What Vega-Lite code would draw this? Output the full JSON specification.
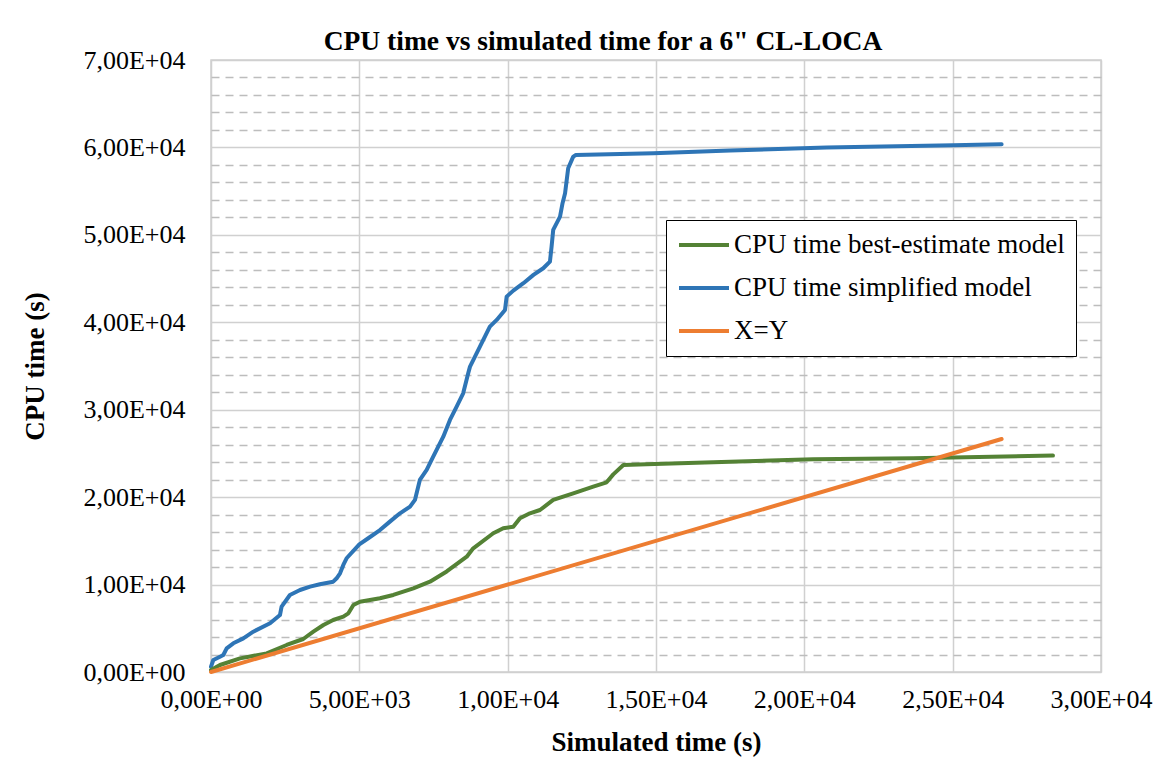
{
  "$schema": "https://vega.github.io/schema/vega-lite/v6.json",
  "width": 890,
  "height": 612,
  "autosize": {"type": "none"},
  "padding": {"left": 211, "top": 60, "right": 64, "bottom": 86},
  "background": "white",
  "config": {
    "font": "Liberation Serif",
    "view": {"stroke": "#d0d0d0", "strokeWidth": 1.5}
  },
  "title": {
    "text": "CPU time vs simulated time for a 6\" CL-LOCA",
    "font": "Liberation Serif",
    "fontSize": 27.5,
    "fontWeight": "bold",
    "color": "black",
    "anchor": "middle",
    "dx": -53,
    "dy": 12,
    "offset": 4
  },
  "data": {
    "values": [
      {"series": "CPU time simplified model", "x": 0, "y": 610},
      {"series": "CPU time simplified model", "x": 78, "y": 1370},
      {"series": "CPU time simplified model", "x": 303, "y": 1750},
      {"series": "CPU time simplified model", "x": 415, "y": 1945},
      {"series": "CPU time simplified model", "x": 528, "y": 2710},
      {"series": "CPU time simplified model", "x": 752, "y": 3280},
      {"series": "CPU time simplified model", "x": 1090, "y": 3850},
      {"series": "CPU time simplified model", "x": 1426, "y": 4610},
      {"series": "CPU time simplified model", "x": 1990, "y": 5570},
      {"series": "CPU time simplified model", "x": 2325, "y": 6520},
      {"series": "CPU time simplified model", "x": 2380, "y": 7470},
      {"series": "CPU time simplified model", "x": 2660, "y": 8810},
      {"series": "CPU time simplified model", "x": 3000, "y": 9380},
      {"series": "CPU time simplified model", "x": 3340, "y": 9760},
      {"series": "CPU time simplified model", "x": 3670, "y": 10030},
      {"series": "CPU time simplified model", "x": 4120, "y": 10330},
      {"series": "CPU time simplified model", "x": 4235, "y": 10720},
      {"series": "CPU time simplified model", "x": 4350, "y": 11290},
      {"series": "CPU time simplified model", "x": 4460, "y": 12240},
      {"series": "CPU time simplified model", "x": 4570, "y": 13010},
      {"series": "CPU time simplified model", "x": 5000, "y": 14600},
      {"series": "CPU time simplified model", "x": 5300, "y": 15300},
      {"series": "CPU time simplified model", "x": 5695, "y": 16240},
      {"series": "CPU time simplified model", "x": 6030, "y": 17200},
      {"series": "CPU time simplified model", "x": 6370, "y": 18150},
      {"series": "CPU time simplified model", "x": 6710, "y": 18910},
      {"series": "CPU time simplified model", "x": 6875, "y": 19680},
      {"series": "CPU time simplified model", "x": 7040, "y": 21970},
      {"series": "CPU time simplified model", "x": 7270, "y": 23110},
      {"series": "CPU time simplified model", "x": 7490, "y": 24630},
      {"series": "CPU time simplified model", "x": 7830, "y": 26920},
      {"series": "CPU time simplified model", "x": 8055, "y": 28830},
      {"series": "CPU time simplified model", "x": 8280, "y": 30350},
      {"series": "CPU time simplified model", "x": 8500, "y": 31880},
      {"series": "CPU time simplified model", "x": 8670, "y": 34170},
      {"series": "CPU time simplified model", "x": 8730, "y": 34930},
      {"series": "CPU time simplified model", "x": 9065, "y": 37220},
      {"series": "CPU time simplified model", "x": 9400, "y": 39500},
      {"series": "CPU time simplified model", "x": 9630, "y": 40270},
      {"series": "CPU time simplified model", "x": 9910, "y": 41410},
      {"series": "CPU time simplified model", "x": 9965, "y": 42930},
      {"series": "CPU time simplified model", "x": 10190, "y": 43620},
      {"series": "CPU time simplified model", "x": 10530, "y": 44470},
      {"series": "CPU time simplified model", "x": 10870, "y": 45420},
      {"series": "CPU time simplified model", "x": 11200, "y": 46180},
      {"series": "CPU time simplified model", "x": 11425, "y": 46940},
      {"series": "CPU time simplified model", "x": 11480, "y": 48650},
      {"series": "CPU time simplified model", "x": 11535, "y": 50560},
      {"series": "CPU time simplified model", "x": 11765, "y": 52090},
      {"series": "CPU time simplified model", "x": 11850, "y": 53620},
      {"series": "CPU time simplified model", "x": 11935, "y": 54760},
      {"series": "CPU time simplified model", "x": 12040, "y": 57620},
      {"series": "CPU time simplified model", "x": 12210, "y": 58950},
      {"series": "CPU time simplified model", "x": 12300, "y": 59140},
      {"series": "CPU time simplified model", "x": 14910, "y": 59340},
      {"series": "CPU time simplified model", "x": 17500, "y": 59650},
      {"series": "CPU time simplified model", "x": 20750, "y": 59980},
      {"series": "CPU time simplified model", "x": 25020, "y": 60250},
      {"series": "CPU time simplified model", "x": 26650, "y": 60370},
      {"series": "CPU time best-estimate model", "x": 0, "y": 230},
      {"series": "CPU time best-estimate model", "x": 303, "y": 800},
      {"series": "CPU time best-estimate model", "x": 977, "y": 1560},
      {"series": "CPU time best-estimate model", "x": 1877, "y": 2130},
      {"series": "CPU time best-estimate model", "x": 2550, "y": 3090},
      {"series": "CPU time best-estimate model", "x": 3110, "y": 3775},
      {"series": "CPU time best-estimate model", "x": 3450, "y": 4610},
      {"series": "CPU time best-estimate model", "x": 3790, "y": 5380},
      {"series": "CPU time best-estimate model", "x": 4120, "y": 5950},
      {"series": "CPU time best-estimate model", "x": 4460, "y": 6330},
      {"series": "CPU time best-estimate model", "x": 4630, "y": 6710},
      {"series": "CPU time best-estimate model", "x": 4800, "y": 7660},
      {"series": "CPU time best-estimate model", "x": 5020, "y": 8040},
      {"series": "CPU time best-estimate model", "x": 5695, "y": 8430},
      {"series": "CPU time best-estimate model", "x": 6145, "y": 8810},
      {"series": "CPU time best-estimate model", "x": 6820, "y": 9570},
      {"series": "CPU time best-estimate model", "x": 7380, "y": 10330},
      {"series": "CPU time best-estimate model", "x": 7945, "y": 11500},
      {"series": "CPU time best-estimate model", "x": 8620, "y": 13190},
      {"series": "CPU time best-estimate model", "x": 8840, "y": 14150},
      {"series": "CPU time best-estimate model", "x": 9515, "y": 15870},
      {"series": "CPU time best-estimate model", "x": 9850, "y": 16440},
      {"series": "CPU time best-estimate model", "x": 10190, "y": 16620},
      {"series": "CPU time best-estimate model", "x": 10415, "y": 17580},
      {"series": "CPU time best-estimate model", "x": 10750, "y": 18150},
      {"series": "CPU time best-estimate model", "x": 11090, "y": 18530},
      {"series": "CPU time best-estimate model", "x": 11535, "y": 19680},
      {"series": "CPU time best-estimate model", "x": 12210, "y": 20440},
      {"series": "CPU time best-estimate model", "x": 12885, "y": 21200},
      {"series": "CPU time best-estimate model", "x": 13335, "y": 21700},
      {"series": "CPU time best-estimate model", "x": 13560, "y": 22600},
      {"series": "CPU time best-estimate model", "x": 13900, "y": 23680},
      {"series": "CPU time best-estimate model", "x": 14680, "y": 23760},
      {"series": "CPU time best-estimate model", "x": 16930, "y": 23990},
      {"series": "CPU time best-estimate model", "x": 20300, "y": 24330},
      {"series": "CPU time best-estimate model", "x": 23670, "y": 24450},
      {"series": "CPU time best-estimate model", "x": 28380, "y": 24750},
      {"series": "X=Y", "x": 0, "y": 0},
      {"series": "X=Y", "x": 26650, "y": 26650}
    ]
  },
  "mark": {"type": "line", "strokeWidth": 4, "strokeCap": "round", "strokeJoin": "round"},
  "encoding": {
    "x": {
      "field": "x",
      "type": "quantitative",
      "scale": {"domain": [0, 30000], "nice": false},
      "axis": {
        "values": [0, 5000, 10000, 15000, 20000, 25000, 30000],
        "labelExpr": "replace(replace(format(datum.value, '.2e'), '.', ','), 'e+', 'E+0')",
        "title": "Simulated time (s)",
        "titleFont": "Liberation Serif",
        "titleFontSize": 27,
        "titleFontWeight": "bold",
        "titleColor": "black",
        "titleX": 445,
        "titleY": 70,
        "titleBaseline": "middle",
        "labelFont": "Liberation Serif",
        "labelFontSize": 26,
        "labelColor": "black",
        "labelPadding": 14,
        "labelFlush": false,
        "labelOverlap": false,
        "ticks": false,
        "tickSize": 0,
        "domain": false,
        "grid": true,
        "gridColor": "#d0d0d0",
        "gridWidth": 1.5
      }
    },
    "y": {
      "field": "y",
      "type": "quantitative",
      "scale": {"domain": [0, 70000], "nice": false},
      "axis": {
        "values": [0, 2000, 4000, 6000, 8000, 10000, 12000, 14000, 16000, 18000, 20000, 22000, 24000, 26000, 28000, 30000, 32000, 34000, 36000, 38000, 40000, 42000, 44000, 46000, 48000, 50000, 52000, 54000, 56000, 58000, 60000, 62000, 64000, 66000, 68000, 70000],
        "labelExpr": "datum.value % 10000 === 0 ? replace(replace(format(datum.value, '.2e'), '.', ','), 'e+', 'E+0') : ''",
        "title": "CPU time (s)",
        "titleFont": "Liberation Serif",
        "titleFontSize": 27,
        "titleFontWeight": "bold",
        "titleColor": "black",
        "titleX": -176,
        "titleY": 306,
        "titleAngle": 270,
        "titleAlign": "center",
        "titleBaseline": "middle",
        "labelFont": "Liberation Serif",
        "labelFontSize": 26,
        "labelColor": "black",
        "labelPadding": 26,
        "labelFlush": false,
        "labelOverlap": false,
        "ticks": false,
        "tickSize": 0,
        "domain": false,
        "grid": true,
        "gridColor": {"condition": {"test": "datum.value % 10000 === 0", "value": "#d0d0d0"}, "value": "#bdbdbd"},
        "gridDash": {"condition": {"test": "datum.value % 10000 === 0", "value": []}, "value": [8, 6]},
        "gridWidth": 1.5
      }
    },
    "color": {
      "field": "series",
      "type": "nominal",
      "sort": ["CPU time best-estimate model", "CPU time simplified model", "X=Y"],
      "scale": {
        "domain": ["CPU time best-estimate model", "CPU time simplified model", "X=Y"],
        "range": ["#548235", "#2E75B6", "#ED7D31"]
      },
      "legend": {
        "title": null,
        "orient": "none",
        "legendX": 455,
        "legendY": 160,
        "fillColor": "white",
        "strokeColor": "black",
        "padding": 11,
        "symbolType": "stroke",
        "symbolSize": 2500,
        "symbolStrokeWidth": 4,
        "clipHeight": 28,
        "labelFont": "Liberation Serif",
        "labelFontSize": 27,
        "labelColor": "black",
        "labelLimit": 600,
        "labelOffset": 3,
        "rowPadding": 15
      }
    }
  }
}
